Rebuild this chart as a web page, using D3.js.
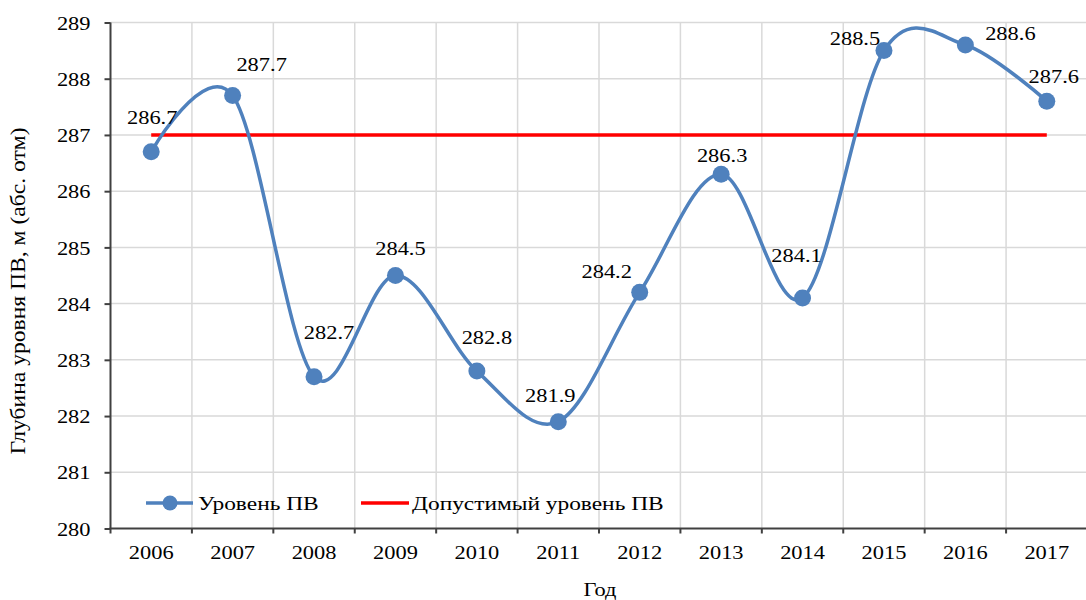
<!DOCTYPE html>
<html>
<head>
<meta charset="utf-8">
<script src="https://cdn.jsdelivr.net/npm/d3@7"></script>
<style>
  html, body { margin: 0; padding: 0; background: #fff; }
  svg { display: block; }
  svg text { font-family: "Liberation Serif", serif; }
</style>
</head>
<body>
<svg id="chart" width="1086" height="600"></svg>
<script>
// Groundwater level by year
const years = ["2006","2007","2008","2009","2010","2011","2012","2013","2014","2015","2016","2017"];
const levels = [286.7, 287.7, 282.7, 284.5, 282.8, 281.9, 284.2, 286.3, 284.1, 288.5, 288.6, 287.6];
const allowedLevel = 287;
const yTicks = [280, 281, 282, 283, 284, 285, 286, 287, 288, 289];
const seriesNames = ["Уровень ПВ", "Допустимый уровень ПВ"];
const xTitle = "Год";
const yTitle = "Глубина уровня ПВ, м (абс. отм)";

// hand-placed label offsets (px) relative to each marker
const labelOffsets = [[1,-35],[29,-31],[15,-45],[5,-27],[10,-34],[-8,-27],[-33,-21],[1,-19],[-6,-43],[-29,-12],[45,-12],[7,-25]];

const W = 1086, H = 600;
const m = { left: 110.5, right: 1087.5, top: 22.5, bottom: 528.5 };
const SX = 1.15;          // horizontal widening of glyphs
const FS = "19.5px";
const FONT = '"Liberation Serif", serif';
const blue = "#4f81bd", red = "#ff0000", grid = "#d9d9d9", axisCol = "#404040";

const svg = d3.select("#chart");

const x = d3.scaleBand().domain(years).range([m.left, m.right]).paddingInner(0).paddingOuter(0);
const y = d3.scaleLinear().domain([280, 289]).range([m.bottom, m.top]);
const cx = d => x(d) + x.bandwidth() / 2;

function styleText(sel, size) {
  sel.style("font-family", FONT).style("font-size", size || FS).attr("fill", "#000");
}

// gridlines
const g = svg.append("g");
g.selectAll("line.h").data(yTicks.slice(1)).join("line")
  .attr("x1", m.left).attr("x2", m.right)
  .attr("y1", d => y(d)).attr("y2", d => y(d))
  .attr("stroke", grid).attr("stroke-width", 1.5);
g.selectAll("line.v").data(years.slice(1)).join("line")
  .attr("x1", d => x(d)).attr("x2", d => x(d))
  .attr("y1", m.top).attr("y2", m.bottom)
  .attr("stroke", grid).attr("stroke-width", 1.5);

// y axis
const yAxis = svg.append("g").attr("transform", `translate(${m.left},0)`)
  .call(d3.axisLeft(y).tickValues(yTicks).tickFormat(d3.format("d")).tickSize(6).tickPadding(0))
  .attr("font-family", null).attr("font-size", null);
yAxis.select(".domain").attr("stroke", axisCol).attr("stroke-width", 2).attr("d", `M0,${m.top}V${m.bottom}`);
yAxis.selectAll(".tick line").attr("stroke", axisCol).attr("stroke-width", 2);
yAxis.selectAll(".tick text")
  .attr("x", -20 / SX).attr("dy", "0.34em")
  .attr("transform", `scale(${SX},1)`)
  .call(styleText);

// x axis: labels at band centres, ticks at band boundaries
const xAxis = svg.append("g").attr("transform", `translate(0,${m.bottom})`)
  .call(d3.axisBottom(x).tickSize(0).tickPadding(0))
  .attr("font-family", null).attr("font-size", null);
xAxis.select(".domain").remove();
xAxis.selectAll(".tick text")
  .attr("y", 31).attr("dy", 0)
  .attr("transform", `scale(${SX},1)`)
  .call(styleText);
svg.append("line").attr("x1", m.left - 1).attr("x2", W)
  .attr("y1", m.bottom).attr("y2", m.bottom)
  .attr("stroke", axisCol).attr("stroke-width", 2);
svg.selectAll("line.xt").data(years).join("line")
  .attr("x1", d => x(d)).attr("x2", d => x(d))
  .attr("y1", m.bottom).attr("y2", m.bottom + 5)
  .attr("stroke", axisCol).attr("stroke-width", 2);

// allowed level line
svg.append("line")
  .attr("x1", cx(years[0])).attr("x2", cx(years[years.length - 1]))
  .attr("y1", y(allowedLevel)).attr("y2", y(allowedLevel))
  .attr("stroke", red).attr("stroke-width", 3.5);

// smoothed level line
const pts = years.map((yr, i) => ({ yr, v: levels[i] }));
svg.append("path").datum(pts)
  .attr("d", d3.line().x(d => cx(d.yr)).y(d => y(d.v)).curve(d3.curveCardinal.tension(0)))
  .attr("fill", "none").attr("stroke", blue).attr("stroke-width", 3.5);
svg.selectAll("circle.pt").data(pts).join("circle")
  .attr("cx", d => cx(d.yr)).attr("cy", d => y(d.v)).attr("r", 8.5).attr("fill", blue);

// value labels
const fmt = d3.format(".1f");
svg.selectAll("g.lbl").data(pts).join("g")
  .attr("transform", (d, i) => `translate(${cx(d.yr) + labelOffsets[i][0]},${y(d.v) + labelOffsets[i][1]}) scale(${SX},1)`)
  .append("text").attr("text-anchor", "middle").attr("dy", "0.35em")
  .text(d => fmt(d.v))
  .call(styleText);

// legend
const LSX = 1.2;
const lg = svg.append("g");
lg.append("line").attr("x1", 146).attr("x2", 193).attr("y1", 503).attr("y2", 503)
  .attr("stroke", blue).attr("stroke-width", 3.5);
lg.append("circle").attr("cx", 170).attr("cy", 503).attr("r", 7.5).attr("fill", blue);
lg.append("g").attr("transform", `translate(198,503) scale(${LSX},1)`)
  .append("text").attr("dy", "0.35em").text(seriesNames[0]).call(styleText);
lg.append("line").attr("x1", 361).attr("x2", 409).attr("y1", 503).attr("y2", 503)
  .attr("stroke", red).attr("stroke-width", 3.5);
lg.append("g").attr("transform", `translate(412,503) scale(${LSX},1)`)
  .append("text").attr("dy", "0.35em").text(seriesNames[1]).call(styleText);

// axis titles
svg.append("g").attr("transform", `translate(600,590) scale(${SX},1)`)
  .append("text").attr("text-anchor", "middle").attr("dy", "0.32em")
  .text(xTitle).call(styleText);
svg.append("g").attr("transform", `translate(18,291) rotate(-90) scale(1.18,1)`)
  .append("text").attr("text-anchor", "middle").attr("dy", "0.35em")
  .text(yTitle).call(styleText, "20px");
</script>
</body>
</html>
